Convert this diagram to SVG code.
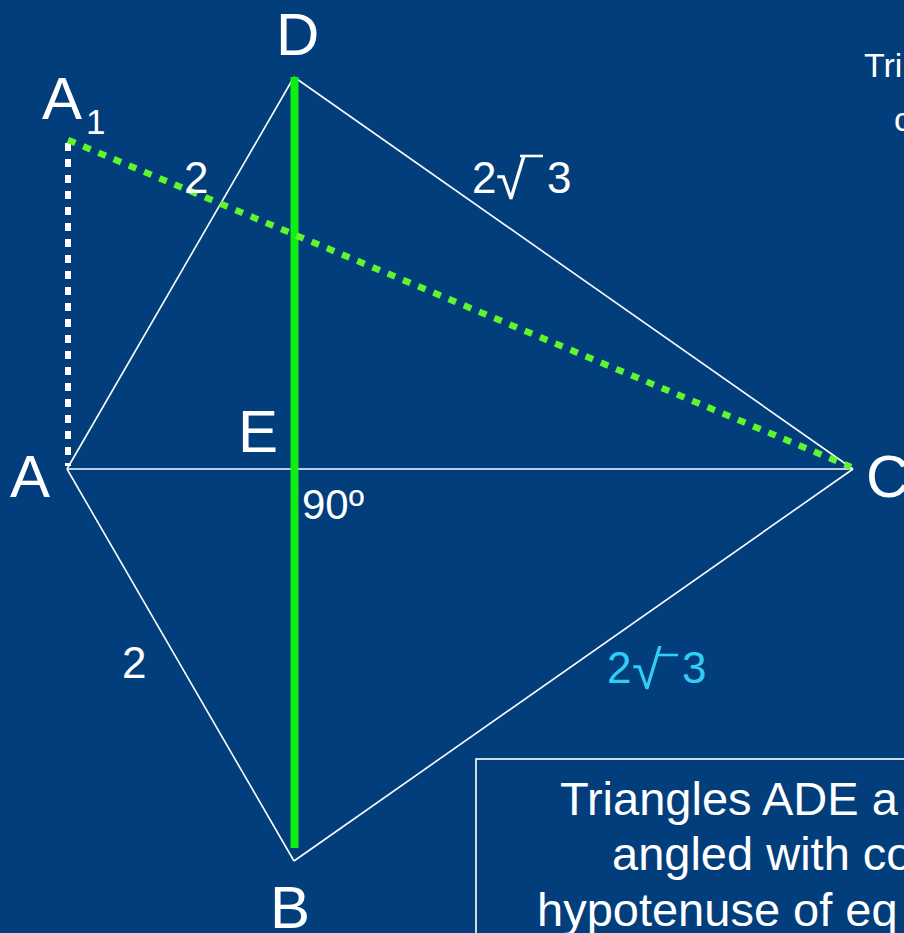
<svg xmlns="http://www.w3.org/2000/svg" width="904" height="933" viewBox="0 0 904 933">
<style>
.lbl{font-family:"Liberation Sans",Arial,sans-serif;fill:#ffffff}
.big{font-size:60px}
.num{font-size:44px}
.box{font-size:47px}
.rad{font-size:54px}
.edge{stroke:#ffffff;stroke-width:1.6;fill:none}
.bar{stroke-width:2.6;fill:none}
.cyan{fill:#33ccf5}
</style>
<rect x="0" y="0" width="904" height="933" fill="#023e7c"/>
<g id="connectors">
  <line class="edge" x1="67" y1="469" x2="294" y2="77"/>
  <line class="edge" x1="294" y1="77" x2="853" y2="469"/>
  <line class="edge" x1="67" y1="469" x2="853" y2="469"/>
  <line class="edge" x1="67" y1="469" x2="294" y2="861"/>
  <line class="edge" x1="294" y1="861" x2="853" y2="469"/>
  <line x1="294.5" y1="77" x2="294.5" y2="848" stroke="#11ee11" stroke-width="8"/>
  <line x1="68" y1="143" x2="68" y2="466" stroke="#ffffff" stroke-width="6" stroke-dasharray="8 8"/>
  <line x1="68" y1="140" x2="851" y2="467" stroke="#5ff52f" stroke-width="6.5" stroke-dasharray="8 8.5"/>
</g>
<g id="node-D"><text class="lbl big" x="276" y="55">D</text></g>
<g id="node-A1"><text class="lbl big" x="42" y="119">A</text><text class="lbl" font-size="35" x="86" y="134">1</text></g>
<g id="node-A"><text class="lbl big" x="10" y="497">A</text></g>
<g id="node-E"><text class="lbl big" x="238" y="452">E</text></g>
<g id="node-C"><text class="lbl big" x="866" y="497">C</text></g>
<g id="node-B"><text class="lbl big" x="270" y="928">B</text></g>
<g id="label-90"><text class="lbl" font-size="42" x="302" y="519">90º</text></g>
<g id="label-2a"><text class="lbl num" x="184" y="193">2</text></g>
<g id="label-2b"><text class="lbl num" x="122" y="678">2</text></g>
<g id="label-DC">
  <text class="lbl num" x="472" y="193">2</text>
  <text class="lbl rad" x="496" y="199">√</text>
  <line class="bar" stroke="#ffffff" x1="520" y1="156" x2="543" y2="156"/>
  <text class="lbl num" x="547" y="193">3</text>
</g>
<g id="label-BC">
  <text class="lbl num cyan" x="607" y="683">2</text>
  <text class="lbl rad cyan" x="632" y="689">√</text>
  <line class="bar" stroke="#33ccf5" x1="656" y1="655" x2="678" y2="655"/>
  <text class="lbl num cyan" x="682" y="683">3</text>
</g>
<g id="note-top">
  <text class="lbl" font-size="34" x="864" y="77">Tri</text>
  <text class="lbl" font-size="34" x="894" y="131">c</text>
</g>
<g id="note-box">
  <rect x="476" y="759" width="460" height="200" fill="none" stroke="#ffffff" stroke-width="1.6"/>
  <text class="lbl box" x="560" y="815">Triangles ADE a</text>
  <text class="lbl box" x="612" y="870">angled with co</text>
  <text class="lbl box" x="537" y="926">hypotenuse of eq</text>
</g>
</svg>
